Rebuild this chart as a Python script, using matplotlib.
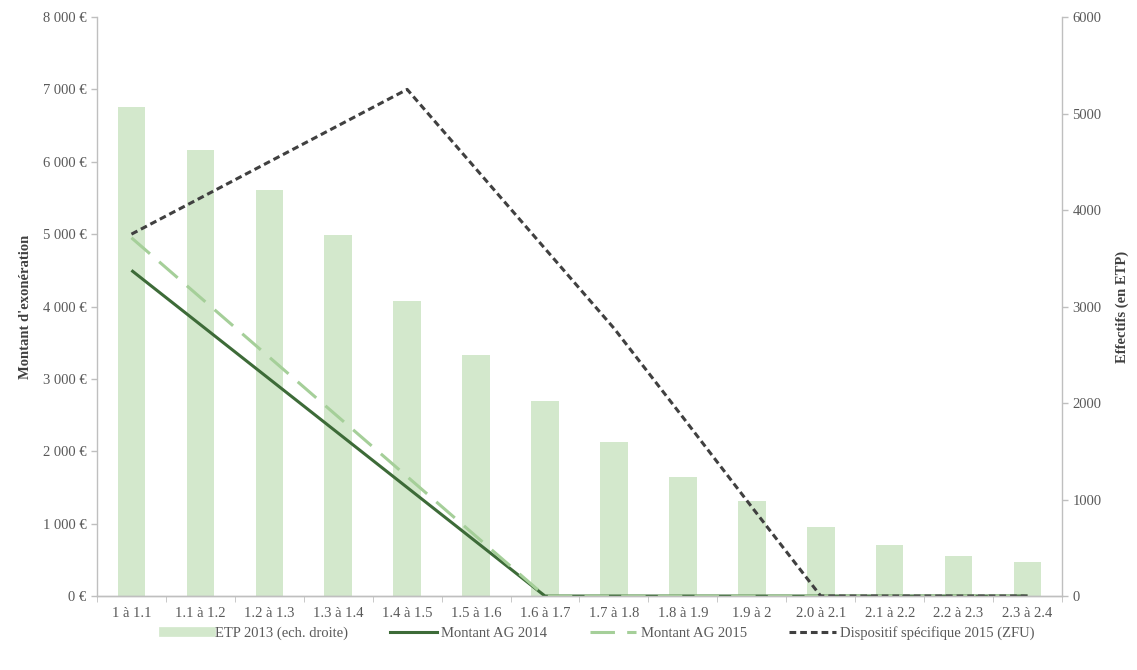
import matplotlib
matplotlib.use("Agg")
import matplotlib.pyplot as plt
from matplotlib.lines import Line2D
import numpy as np

plt.rcParams["font.family"] = ["Liberation Serif", "DejaVu Serif"]

# Data
categories = ["1 à 1.1", "1.1 à 1.2", "1.2 à 1.3", "1.3 à 1.4", "1.4 à 1.5",
              "1.5 à 1.6", "1.6 à 1.7", "1.7 à 1.8", "1.8 à 1.9", "1.9 à 2",
              "2.0 à 2.1", "2.1 à 2.2", "2.2 à 2.3", "2.3 à 2.4"]
etp_2013 = [5070, 4620, 4210, 3740, 3060, 2500, 2020,
            1600, 1230, 980, 720, 530, 420, 350]
ag_2014 = [4500, 3750, 3000, 2250, 1500, 750, 0, 0, 0, 0, 0, 0, 0, 0]
ag_2015 = [4950, 4125, 3300, 2475, 1650, 825, 0, 0, 0, 0, 0, 0, 0, 0]
zfu_2015 = [5000, 5500, 6000, 6500, 7000, 5900, 4800, 3700,
            2470, 1230, 0, 0, 0, 0]
left_ticks = [0, 1000, 2000, 3000, 4000, 5000, 6000, 7000, 8000]
right_ticks = [0, 1000, 2000, 3000, 4000, 5000, 6000]

text_col = "#595959"
axis_col = "#bfbfbf"
bar_col = "#d3e8cc"
ag14_col = "#3d6b38"
ag15_col = "#a5cf99"
zfu_col = "#404040"
fs = 10.5

fig = plt.figure(figsize=(11.37, 6.70), dpi=100)
ax = fig.add_axes([0.0853, 0.1104, 0.8487, 0.8642])
ax2 = ax.twinx()

x = np.arange(len(categories))

# bars on the right axis, kept behind the lines
ax.set_zorder(ax2.get_zorder() + 1)
ax.patch.set_visible(False)
ax2.bar(x, etp_2013, width=0.4, color=bar_col, zorder=1)

ax.plot(x, ag_2014, color=ag14_col, linewidth=2.2, solid_capstyle="butt")
ax.plot(x, ag_2015, color=ag15_col, linewidth=2.2, dashes=(8, 4))
ax.plot(x, zfu_2015, color=zfu_col, linewidth=2.2, dashes=(2.2, 1.3))

ax.set_xlim(-0.5, len(categories) - 0.5)
ax.set_ylim(0, 8000)
ax2.set_ylim(0, 6000)

ax.set_yticks(left_ticks)
ax.set_yticklabels([f"{v:,} €".replace(",", " ") for v in left_ticks])
ax2.set_yticks(right_ticks)
ax2.set_yticklabels([str(v) for v in right_ticks])
ax.set_xticks(x)
ax.set_xticklabels(categories)
ax.set_xticks(np.arange(len(categories) + 1) - 0.5, minor=True)

for a in (ax, ax2):
    a.spines["top"].set_visible(False)
    for s in a.spines.values():
        s.set_color(axis_col)
        s.set_linewidth(1.0)
    a.tick_params(colors=axis_col, labelcolor=text_col, labelsize=fs,
                  length=4, width=1)
ax.tick_params(axis="x", which="major", length=0, pad=8)
ax.tick_params(axis="x", which="minor", length=4, color=axis_col)
ax2.spines["left"].set_visible(False)
ax.spines["right"].set_visible(False)

ax.set_ylabel("Montant d'exonération", fontsize=fs, fontweight="bold",
              color="#404040", labelpad=8)
ax2.set_ylabel("Effectifs (en ETP)", fontsize=fs, fontweight="bold",
               color="#404040", labelpad=10)

handles = [
    Line2D([0], [0], color=bar_col, linewidth=7),
    Line2D([0], [0], color=ag14_col, linewidth=2.2),
    Line2D([0], [0], color=ag15_col, linewidth=2.2, dashes=(8, 4)),
    Line2D([0], [0], color=zfu_col, linewidth=2.2, dashes=(2.2, 1.3)),
]
labels = ["ETP 2013 (ech. droite)", "Montant AG 2014", "Montant AG 2015",
          "Dispositif spécifique 2015 (ZFU)"]
fig.legend(handles, labels, loc="center", bbox_to_anchor=(0.527, 0.055),
           ncol=4, frameon=False, fontsize=fs, labelcolor=text_col,
           handlelength=3.2, columnspacing=2.9, handletextpad=0.3)

fig.savefig("out.png", dpi=100, facecolor="white")
